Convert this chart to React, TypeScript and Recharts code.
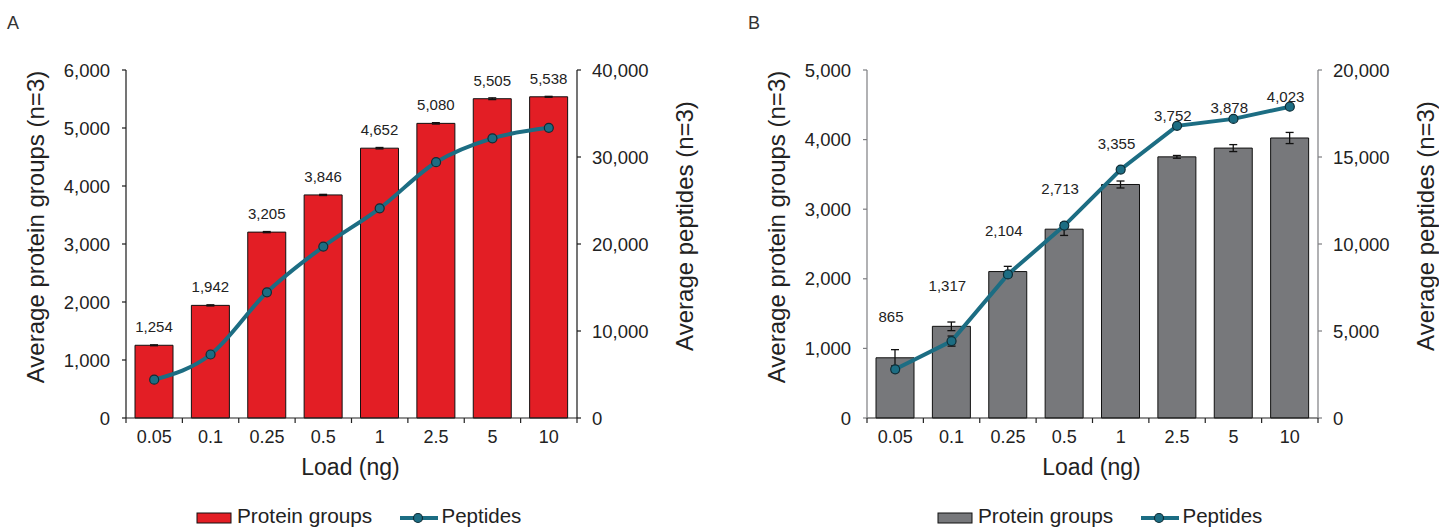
import { Bar, ComposedChart, ErrorBar, LabelList, Legend, Line, XAxis, YAxis } from "recharts";

const loads = ["0.05", "0.1", "0.25", "0.5", "1", "2.5", "5", "10"];

// panel A: protein groups (left axis) and peptides (right axis)
const proteinsA = [1254, 1942, 3205, 3846, 4652, 5080, 5505, 5538];
const proteinsErrA = [8, 10, 10, 10, 12, 12, 15, 8];
const peptidesA = [4400, 7300, 14450, 19700, 24100, 29400, 32150, 33350];

// panel B
const proteinsB = [865, 1317, 2104, 2713, 3355, 3752, 3878, 4023];
const proteinsErrB = [117, 62, 75, 90, 50, 20, 50, 80];
const peptidesB = [2800, 4420, 8250, 11060, 14280, 16790, 17190, 17890];
const peptidesErrB = [150, 290, 120, 150, 120, 100, 100, 100];

const leftTicksA = [0, 1000, 2000, 3000, 4000, 5000, 6000];
const rightTicksA = [0, 10000, 20000, 30000, 40000];
const leftTicksB = [0, 1000, 2000, 3000, 4000, 5000];
const rightTicksB = [0, 5000, 10000, 15000, 20000];

const RED = "#e31e25";
const GREY = "#77787b";
const TEAL = "#1c6d83";
const TEXT = "#222";
const FONT = "'Liberation Sans', Arial, Helvetica, sans-serif";

const HEIGHT = 527;
const PLOT_TOP = 70;
const PLOT_BOTTOM = 418;
const PLOT_WIDTH = 451;

const fmt = (v: number) => Number(v).toLocaleString("en-US");

const buildData = (prot: number[], protErr: number[], pep: number[], pepErr?: number[]) =>
  loads.map((load, i) => ({
    load,
    proteins: prot[i],
    proteinsErr: protErr[i],
    peptides: pep[i],
    peptidesErr: pepErr ? pepErr[i] : 0,
  }));

const VerticalTitle = ({ cx, cy, text }: { cx: number; cy: number; text: string }) => (
  <text
    x={cx}
    y={cy}
    transform={`rotate(-90 ${cx} ${cy})`}
    textAnchor="middle"
    dominantBaseline="central"
    fontSize={24}
    fill={TEXT}
  >
    {text}
  </text>
);

// category label at the centre, tick marks on the category boundaries
const LoadTick = (props: any) => {
  const { x, y, payload, index, color } = props;
  const half = PLOT_WIDTH / loads.length / 2;
  return (
    <g>
      <line x1={x - half} x2={x - half} y1={y} y2={y + 5} stroke={color} strokeWidth={1.2} />
      {index === loads.length - 1 && (
        <line x1={x + half} x2={x + half} y1={y} y2={y + 5} stroke={color} strokeWidth={1.2} />
      )}
      <text x={x} y={y + 25} textAnchor="middle" fontSize={18} fill={TEXT}>
        {payload.value}
      </text>
    </g>
  );
};

type PanelProps = {
  letter: string;
  left: number;
  width: number;
  plotLeft: number;
  data: any[];
  barColor: string;
  yAxisColor: string;
  leftTicks: number[];
  rightTicks: number[];
  smooth: boolean;
  labelGap: number;
  labelDx: number;
  peptideErrors: boolean;
};

const Panel = (p: PanelProps) => {
  const rightWidth = p.width - p.plotLeft - PLOT_WIDTH;

  const renderLegend = (props: any) => {
    const payload = props.payload || [];
    const bx = p.plotLeft;
    const barEntry = payload.find((e: any) => e.dataKey === "proteins");
    const lineEntry = payload.find((e: any) => e.dataKey === "peptides");
    return (
      <svg width={p.width} height={30} style={{ display: "block", overflow: "visible" }}>
        {barEntry && (
          <g>
            <rect x={bx + 71} y={13} width={34} height={10} fill={p.barColor} stroke="#111" strokeWidth={1} />
            <text x={bx + 111} y={22.5} fontSize={20.8} fill={TEXT}>
              {barEntry.value}
            </text>
          </g>
        )}
        {lineEntry && (
          <g>
            <line x1={bx + 274} x2={bx + 312} y1={18} y2={18} stroke={TEAL} strokeWidth={4} />
            <circle cx={bx + 292} cy={18} r={4.5} fill={TEAL} stroke="#0e2d36" strokeWidth={1.2} />
            <text x={bx + 315.5} y={22.5} fontSize={20.5} fill={TEXT}>
              {lineEntry.value}
            </text>
          </g>
        )}
      </svg>
    );
  };

  return (
    <div style={{ position: "absolute", left: p.left, top: 0, width: p.width, height: HEIGHT }}>
      <div style={{ position: "absolute", left: p.plotLeft - 119, top: 13, fontSize: 18, color: "#333" }}>
        {p.letter}
      </div>
      <ComposedChart
        width={p.width}
        height={HEIGHT}
        data={p.data}
        margin={{ top: PLOT_TOP, right: 0, bottom: 0, left: 0 }}
      >
        <XAxis
          dataKey="load"
          height={HEIGHT - PLOT_BOTTOM}
          interval={0}
          tickSize={0}
          tickMargin={0}
          tickLine={false}
          axisLine={{ stroke: "#222", strokeWidth: 1.2 }}
          tick={<LoadTick color="#222" />}
          label={(lp: any) => {
            const vb = lp.viewBox || { x: p.plotLeft, width: PLOT_WIDTH };
            return (
              <text x={vb.x + vb.width / 2 - 1} y={475} textAnchor="middle" fontSize={23} fill={TEXT}>
                Load (ng)
              </text>
            );
          }}
        />
        <YAxis
          yAxisId="left"
          orientation="left"
          width={p.plotLeft}
          domain={[0, p.leftTicks[p.leftTicks.length - 1]]}
          ticks={p.leftTicks}
          interval={0}
          tickFormatter={fmt}
          tickSize={4}
          tickMargin={12}
          tick={{ fontSize: 18.5, fill: TEXT }}
          tickLine={{ stroke: p.yAxisColor, strokeWidth: 1.2 }}
          axisLine={{ stroke: p.yAxisColor, strokeWidth: 1.2 }}
          label={(lp: any) => {
            const vb = lp.viewBox || { x: 0, y: PLOT_TOP, width: p.plotLeft, height: PLOT_BOTTOM - PLOT_TOP };
            return (
              <VerticalTitle
                cx={vb.x + vb.width - 91}
                cy={vb.y + vb.height / 2 - 17}
                text="Average protein groups (n=3)"
              />
            );
          }}
        />
        <YAxis
          yAxisId="right"
          orientation="right"
          width={rightWidth}
          domain={[0, p.rightTicks[p.rightTicks.length - 1]]}
          ticks={p.rightTicks}
          interval={0}
          tickFormatter={fmt}
          tickSize={4}
          tickMargin={11}
          tick={{ fontSize: 18.5, fill: TEXT }}
          tickLine={{ stroke: p.yAxisColor, strokeWidth: 1.2 }}
          axisLine={{ stroke: p.yAxisColor, strokeWidth: 1.2 }}
          label={(lp: any) => {
            const vb = lp.viewBox || {
              x: p.plotLeft + PLOT_WIDTH,
              y: PLOT_TOP,
              width: rightWidth,
              height: PLOT_BOTTOM - PLOT_TOP,
            };
            return (
              <VerticalTitle cx={vb.x + 107} cy={vb.y + vb.height / 2 - 18} text="Average peptides (n=3)" />
            );
          }}
        />
        <Legend
          layout="horizontal"
          verticalAlign="middle"
          align="center"
          wrapperStyle={{ left: 0, top: 500, width: p.width, height: 30 }}
          content={renderLegend}
        />
        <Bar
          yAxisId="left"
          dataKey="proteins"
          name="Protein groups"
          fill={p.barColor}
          stroke="#111"
          strokeWidth={1}
          barSize={38}
          isAnimationActive={false}
        >
          <ErrorBar dataKey="proteinsErr" width={4} stroke="#111" strokeWidth={1.3} direction="y" />
          <LabelList
            dataKey="proteins"
            content={(lp: any) => (
              <text
                x={lp.x + lp.width / 2 + p.labelDx}
                y={lp.y - p.labelGap}
                textAnchor="middle"
                fontSize={15}
                fill={TEXT}
              >
                {fmt(lp.value)}
              </text>
            )}
          />
        </Bar>
        <Line
          yAxisId="right"
          dataKey="peptides"
          name="Peptides"
          type={p.smooth ? "monotone" : "linear"}
          stroke={TEAL}
          strokeWidth={4}
          dot={{ r: 4.5, fill: TEAL, stroke: "#0e2d36", strokeWidth: 1.2 }}
          activeDot={false}
          isAnimationActive={false}
        >
          {p.peptideErrors && (
            <ErrorBar dataKey="peptidesErr" width={4} stroke="#111" strokeWidth={1.3} direction="y" />
          )}
        </Line>
      </ComposedChart>
    </div>
  );
};

export default function App() {
  const dataA = buildData(proteinsA, proteinsErrA, peptidesA);
  const dataB = buildData(proteinsB, proteinsErrB, peptidesB, peptidesErrB);
  return (
    <div
      style={{
        position: "absolute",
        left: 0,
        top: 0,
        width: 1439,
        height: HEIGHT,
        background: "#fff",
        fontFamily: FONT,
        overflow: "hidden",
      }}
    >
      <Panel
        letter="A"
        left={0}
        width={720}
        plotLeft={126}
        data={dataA}
        barColor={RED}
        yAxisColor="#1a1a1a"
        leftTicks={leftTicksA}
        rightTicks={rightTicksA}
        smooth={true}
        labelGap={13}
        labelDx={0}
        peptideErrors={false}
      />
      <Panel
        letter="B"
        left={720}
        width={719}
        plotLeft={147}
        data={dataB}
        barColor={GREY}
        yAxisColor="#7d7e81"
        leftTicks={leftTicksB}
        rightTicks={rightTicksB}
        smooth={false}
        labelGap={35.5}
        labelDx={-4}
        peptideErrors={true}
      />
    </div>
  );
}
